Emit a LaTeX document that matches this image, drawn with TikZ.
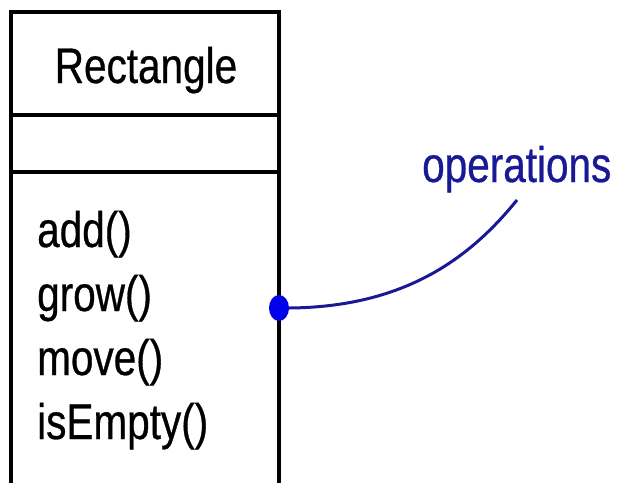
\documentclass[tikz,border=0pt]{standalone}
\usepackage{fontspec}
\usepackage{tikz}
\usetikzlibrary{shapes.geometric}
\newfontfamily\umlfont[FakeStretch=0.81,FakeBold=0.6]{Liberation Sans}
\definecolor{opblue}{RGB}{25,25,150}
\definecolor{dotblue}{RGB}{0,0,235}

\begin{document}
\begin{tikzpicture}[x=1pt,y=-1pt,
		umltext/.style={inner sep=0pt,font=\umlfont\fontsize{50}{60}\selectfont},
		boxline/.style={line width=3.2pt}]
			\useasboundingbox (0,0) rectangle (617,483);
			\draw[boxline] (11,483) -- (11,12) -- (279,12) -- (279,483);
			\draw[boxline] (11,115) -- (279,115);
			\draw[boxline] (11,172) -- (279,172);
			\node[umltext,anchor=base] (name) at (146,83) {Rectangle};
			\node[umltext,anchor=base west] (add) at (37,247) {add()};
			\node[umltext,anchor=base west] (grow) at (37,311) {grow()};
			\node[umltext,anchor=base west] (move) at (37,375) {move()};
			\node[umltext,anchor=base west] (empty) at (37,439) {isEmpty()};
			\node[ellipse,fill=dotblue,minimum width=20pt,minimum height=26pt,inner sep=0pt] (dot) at (279,308) {};
			\node[umltext,text=opblue,anchor=base west] (ops) at (422,182) {operations};
			\coordinate (opsend) at (517,200);
			\draw[opblue,line width=3pt] (dot.east) .. controls (405,307) and (470,258) .. (opsend);
		\end{tikzpicture}
\end{document}
